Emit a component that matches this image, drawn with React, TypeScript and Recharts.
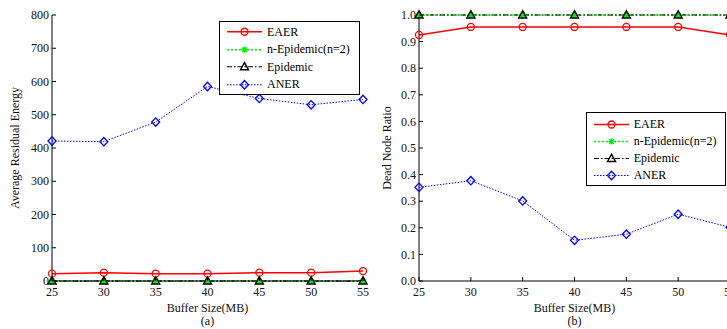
import { LineChart, Line, XAxis, YAxis, Legend } from 'recharts'

const bufferSizes = [25, 30, 35, 40, 45, 50, 55]

// (a) average residual energy
const energyEAER = [22, 25, 22, 22, 25, 25, 30]
const energyNEpidemic = [0, 0, 0, 0, 0, 0, 0]
const energyEpidemic = [0, 0, 0, 0, 0, 0, 0]
const energyANER = [421, 419, 478, 585, 549, 530, 546]
const energyTicks = [0, 100, 200, 300, 400, 500, 600, 700, 800]

// (b) dead node ratio
const deadEAER = [0.925, 0.955, 0.955, 0.955, 0.955, 0.955, 0.925]
const deadNEpidemic = [1, 1, 1, 1, 1, 1, 1]
const deadEpidemic = [1, 1, 1, 1, 1, 1, 1]
const deadANER = [0.352, 0.377, 0.301, 0.153, 0.176, 0.251, 0.202]
const ratioTicks = [0, 0.1, 0.2, 0.3, 0.4, 0.5, 0.6, 0.7, 0.8, 0.9, 1.0]

type MarkerKind = 'circle' | 'star' | 'triangle' | 'diamond'

interface SeriesDef {
  key: string
  name: string
  color: string
  dash?: string
  width: number
  marker: MarkerKind
}

const SERIES: SeriesDef[] = [
  { key: 'eaer', name: 'EAER', color: '#ff0000', width: 1.5, marker: 'circle' },
  { key: 'nepi', name: 'n-Epidemic(n=2)', color: '#00ee00', dash: '2 2', width: 1.6, marker: 'star' },
  { key: 'epi', name: 'Epidemic', color: '#000000', dash: '5 2 1.5 2', width: 1, marker: 'triangle' },
  { key: 'aner', name: 'ANER', color: '#0000ff', dash: '1.5 1.5', width: 1, marker: 'diamond' },
]

const FONT = '"Liberation Serif", "Times New Roman", serif'
const CHART_W = 372
const CHART_H = 329
const PLOT_TOP = 15
const PLOT_H = 266
const Y_AXIS_W = 52
const PLOT_W = 311
const TICK = 4
const Y_MARGIN = 3
const X_MARGIN = 6

function Marker({ kind, cx, cy, color }: { kind: MarkerKind; cx?: number; cy?: number; color: string }) {
  if (cx == null || cy == null) return null
  if (kind === 'circle') {
    return <circle cx={cx} cy={cy} r={3.5} fill="none" stroke={color} strokeWidth={1.3} />
  }
  if (kind === 'star') {
    const d = 3
    return (
      <g stroke={color} strokeWidth={1.6}>
        <line x1={cx - d} x2={cx + d} y1={cy} y2={cy} />
        <line x1={cx} x2={cx} y1={cy - d} y2={cy + d} />
        <line x1={cx - 2.2} x2={cx + 2.2} y1={cy - 2.2} y2={cy + 2.2} />
        <line x1={cx - 2.2} x2={cx + 2.2} y1={cy + 2.2} y2={cy - 2.2} />
      </g>
    )
  }
  if (kind === 'triangle') {
    return (
      <polygon
        points={`${cx},${cy - 4.2} ${cx - 4},${cy + 3} ${cx + 4},${cy + 3}`}
        fill="none"
        stroke={color}
        strokeWidth={1.4}
      />
    )
  }
  return (
    <polygon
      points={`${cx},${cy - 4.2} ${cx + 4},${cy} ${cx},${cy + 4.2} ${cx - 4},${cy}`}
      fill="none"
      stroke={color}
      strokeWidth={1.3}
    />
  )
}

function LegendBox({ rowH, padTop }: { rowH: number; padTop: number }) {
  return (
    <div
      style={{
        border: '1px solid #000',
        background: '#fff',
        boxSizing: 'border-box',
        paddingTop: padTop,
        paddingLeft: 7,
        height: rowH * 4 + padTop + 3,
        fontFamily: FONT,
        fontSize: 12,
        color: '#000',
      }}
    >
      {SERIES.map((s) => (
        <div key={s.key} style={{ display: 'flex', alignItems: 'center', height: rowH }}>
          <svg width={35} height={rowH} style={{ display: 'block' }}>
            <line
              x1={0}
              x2={35}
              y1={rowH / 2}
              y2={rowH / 2}
              stroke={s.color}
              strokeWidth={s.width}
              strokeDasharray={s.dash}
            />
            <Marker kind={s.marker} cx={17.5} cy={rowH / 2} color={s.color} />
          </svg>
          <span style={{ marginLeft: 5, lineHeight: 1, whiteSpace: 'nowrap' }}>{s.name}</span>
        </div>
      ))}
    </div>
  )
}

const fmtInt = (v: number) => String(v)
const fmtRatio = (v: number) => v.toFixed(1)

function makeLeftTick(fmt: (v: number) => string) {
  return (p: any) => (
    <g>
      <line x1={p.x + Y_MARGIN} x2={p.x + Y_MARGIN + TICK} y1={p.y} y2={p.y} stroke="#000" />
      <text x={p.x} y={p.y} dy="0.35em" textAnchor="end" fontSize={12} fontFamily={FONT} fill="#111">
        {fmt(p.payload.value)}
      </text>
    </g>
  )
}

function bottomTick(p: any) {
  return (
    <g>
      <line x1={p.x} x2={p.x} y1={p.y - X_MARGIN} y2={p.y - X_MARGIN - TICK} stroke="#000" />
      <text x={p.x} y={p.y} dy="0.71em" textAnchor="middle" fontSize={12} fontFamily={FONT} fill="#111">
        {p.payload.value}
      </text>
    </g>
  )
}

function topTick(p: any) {
  return <line x1={p.x} x2={p.x} y1={p.y} y2={p.y + TICK} stroke="#000" />
}

function rightTick(p: any) {
  return <line x1={p.x} x2={p.x - TICK} y1={p.y} y2={p.y} stroke="#000" />
}

interface PanelProps {
  values: number[][]
  yTicks: number[]
  fmt: (v: number) => string
  yLabel: string
  yLabelX: number
  tag: string
  legendTop: number
  legendLeft: number
  legendW: number
  rowH: number
  padTop: number
}

function Panel({ values, yTicks, fmt, yLabel, yLabelX, tag, legendTop, legendLeft, legendW, rowH, padTop }: PanelProps) {
  const rows = bufferSizes.map((x, i) => {
    const row: Record<string, number> = { x }
    SERIES.forEach((s, k) => {
      row[s.key] = values[k][i]
    })
    return row
  })
  const yDomain = [yTicks[0], yTicks[yTicks.length - 1]]
  const xDomain = [bufferSizes[0], bufferSizes[bufferSizes.length - 1]]
  const midX = Y_AXIS_W + PLOT_W / 2
  const midY = PLOT_TOP + PLOT_H / 2
  const xAxisY = PLOT_TOP + PLOT_H

  return (
    <LineChart
      width={CHART_W}
      height={CHART_H}
      data={rows}
      margin={{ top: PLOT_TOP, right: CHART_W - Y_AXIS_W - PLOT_W, bottom: 0, left: 0 }}
    >
      <XAxis
        xAxisId="b"
        dataKey="x"
        type="number"
        domain={xDomain}
        ticks={bufferSizes}
        height={CHART_H - PLOT_TOP - PLOT_H}
        tickSize={0}
        tickLine={false}
        tickMargin={X_MARGIN}
        tick={bottomTick}
        axisLine={{ stroke: '#000' }}
        label={() => (
          <g fontFamily={FONT} fontSize={12} fill="#111">
            <text x={midX} y={xAxisY + 27} dy="0.35em" textAnchor="middle">
              Buffer Size(MB)
            </text>
            <text x={midX} y={xAxisY + 40} dy="0.35em" textAnchor="middle">
              {tag}
            </text>
          </g>
        )}
      />
      <XAxis
        xAxisId="t"
        dataKey="x"
        type="number"
        orientation="top"
        domain={xDomain}
        ticks={bufferSizes}
        height={0}
        tickSize={0}
        tickLine={false}
        tickMargin={0}
        tick={topTick}
        axisLine={{ stroke: '#000' }}
      />
      <YAxis
        yAxisId="l"
        type="number"
        domain={yDomain}
        ticks={yTicks}
        width={Y_AXIS_W}
        tickSize={0}
        tickLine={false}
        tickMargin={Y_MARGIN}
        tick={makeLeftTick(fmt)}
        axisLine={{ stroke: '#000' }}
        label={() => (
          <text
            x={yLabelX}
            y={midY}
            dy="0.35em"
            textAnchor="middle"
            fontFamily={FONT}
            fontSize={12}
            fill="#111"
            transform={`rotate(-90 ${yLabelX} ${midY})`}
          >
            {yLabel}
          </text>
        )}
      />
      <YAxis
        yAxisId="r"
        type="number"
        orientation="right"
        domain={yDomain}
        ticks={yTicks}
        width={0}
        tickSize={0}
        tickLine={false}
        tickMargin={0}
        tick={rightTick}
        axisLine={{ stroke: '#000' }}
      />
      {SERIES.map((s) => (
        <Line
          key={s.key}
          xAxisId="b"
          yAxisId="l"
          dataKey={s.key}
          name={s.name}
          stroke={s.color}
          strokeWidth={s.width}
          strokeDasharray={s.dash}
          isAnimationActive={false}
          dot={(p: any) => (
            <Marker key={`${s.key}-${p.index}`} kind={s.marker} cx={p.cx} cy={p.cy} color={s.color} />
          )}
          activeDot={false}
        />
      ))}
      <Legend
        layout="vertical"
        align="center"
        verticalAlign="middle"
        wrapperStyle={{ left: legendLeft, top: legendTop, width: legendW }}
        content={() => <LegendBox rowH={rowH} padTop={padTop} />}
      />
    </LineChart>
  )
}

export default function App() {
  return (
    <div
      style={{
        position: 'absolute',
        left: 0,
        top: 0,
        width: 727,
        height: 329,
        overflow: 'hidden',
        background: '#fff',
      }}
    >
      <div style={{ position: 'absolute', left: 0, top: 0 }}>
        <Panel
          values={[energyEAER, energyNEpidemic, energyEpidemic, energyANER]}
          yTicks={energyTicks}
          fmt={fmtInt}
          yLabel="Average Residual Energy"
          yLabelX={15}
          tag="(a)"
          legendTop={20.5}
          legendLeft={219}
          legendW={141}
          rowH={17.5}
          padTop={1.5}
        />
      </div>
      <div style={{ position: 'absolute', left: 367, top: 0 }}>
        <Panel
          values={[deadEAER, deadNEpidemic, deadEpidemic, deadANER]}
          yTicks={ratioTicks}
          fmt={fmtRatio}
          yLabel="Dead Node Ratio"
          yLabelX={20}
          tag="(b)"
          legendTop={112.3}
          legendLeft={218.7}
          legendW={140}
          rowH={17}
          padTop={2.5}
        />
      </div>
    </div>
  )
}
